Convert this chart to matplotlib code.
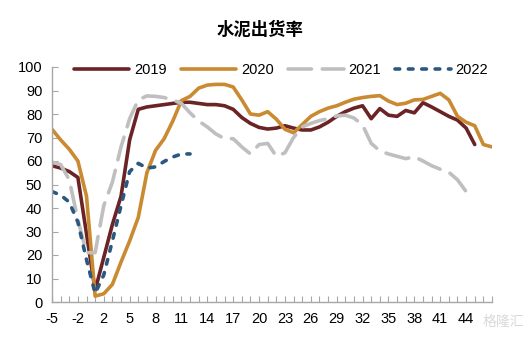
import matplotlib
matplotlib.use('Agg')
import matplotlib.pyplot as plt
import numpy as np

# weeks around the Spring Festival (no week 0)
weeks = [-5, -4, -3, -2, -1] + list(range(1, 48))

y2019 = [58, 57, 55.5, 53, 29, 5, 19, 33, 45, 69,
         82, 83, 83.5, 84, 84.5, 85, 85, 84.5, 84, 84,
         83.5, 82, 78.5, 76, 74.3, 73.6, 74, 75, 74, 73.2,
         73.2, 74.5, 76.5, 79, 81, 82.5, 83.5, 78, 82.3, 79.5,
         79, 81.5, 80.5, 84.8, 83, 81, 79, 77.4, 74, 67]
y2020 = [73.5, 69, 65, 60, 45, 2.5, 3.5, 7.5, 17, 26,
         36, 55, 64.5, 69.5, 77, 85.7, 87.5, 91, 92.3, 92.6,
         92.6, 91.5, 86, 80, 79.5, 81, 77.8, 73.5, 72, 75.5,
         79, 81, 82.5, 83.5, 85, 86.3, 87, 87.5, 87.8, 85.5,
         84, 84.6, 86, 86.2, 87.5, 88.8, 86, 79, 76.5, 75,
         67, 66]
y2021 = [59.5, 58.5, 52, 35, 21, 21, 41, 51, 66, 78,
         86, 87.7, 87.5, 87, 86, 84.5, 80.5, 77, 74.5, 71.5,
         69.5, 69.5, 66, 63, 67, 67.5, 62, 63.5, 70, 74.5,
         76, 77.2, 78, 79.2, 79.5, 78.3, 75.3, 67.5, 64.3, 63,
         62, 61, 61.8, 60, 58, 56.5, 55.2, 52, 47]
y2022 = [47, 45.5, 42.5, 34, 18, 3.7, 11.5, 26, 41, 55.5,
         59, 57, 57.5, 59.8, 61.7, 63, 63]

plt.rcParams['font.family'] = ['Liberation Sans', 'Noto Sans CJK SC', 'DejaVu Sans']

fig = plt.figure(figsize=(5.23, 3.37), dpi=100)
ax = fig.add_axes([52/523, 35/337, 440/523, 235/337])

lw = 2.6
ax.plot(range(len(y2019)), y2019, color='#6B2426', lw=lw, label='2019', solid_capstyle='round')
ax.plot(range(len(y2020)), y2020, color='#C98A31', lw=lw, label='2020', solid_capstyle='round')
ax.plot(range(len(y2021)), y2021, color='#BFBFBF', lw=lw, label='2021',
        dashes=(6.5, 3), dash_capstyle='round')
ax.plot(range(len(y2022)), y2022, color='#2B5880', lw=lw, label='2022',
        dashes=(1.3, 2.4), dash_capstyle='round')

ax.set_xlim(0, len(weeks) - 1)
ax.set_ylim(0, 100)
ax.set_yticks(range(0, 101, 10))

# label every third week, the last one is left blank like the original
ax.set_xticks(range(len(weeks)))
xlabels = [str(w) if i % 3 == 0 else '' for i, w in enumerate(weeks)]
xlabels[-1] = ''
ax.set_xticklabels(xlabels)

for s in ['top', 'right']:
    ax.spines[s].set_visible(False)
for s in ['left', 'bottom']:
    ax.spines[s].set_color('#A6A6A6')
    ax.spines[s].set_linewidth(1)
ax.tick_params(axis='both', direction='in', length=4, color='#A6A6A6', labelsize=10.5, labelcolor='black')
ax.tick_params(axis='x', pad=7)
ax.tick_params(axis='y', pad=7)

ax.legend(loc='center', bbox_to_anchor=(0.52, 0.987), ncol=4, frameon=False, fontsize=10.5,
          handlelength=3.8, handletextpad=0.3, columnspacing=1.0)

fig.text(0.497, 1 - 30/337, '水泥出货率', ha='center', va='center', fontsize=12.5,
         fontweight='bold', family=['Noto Sans CJK SC', 'DejaVu Sans'])
fig.text(503/523, 1 - 322/337, '格隆汇', ha='center', va='center', fontsize=10,
         color='#D9D9D9', family=['Noto Sans CJK SC', 'DejaVu Sans'])

fig.savefig('out.png', dpi=100)
